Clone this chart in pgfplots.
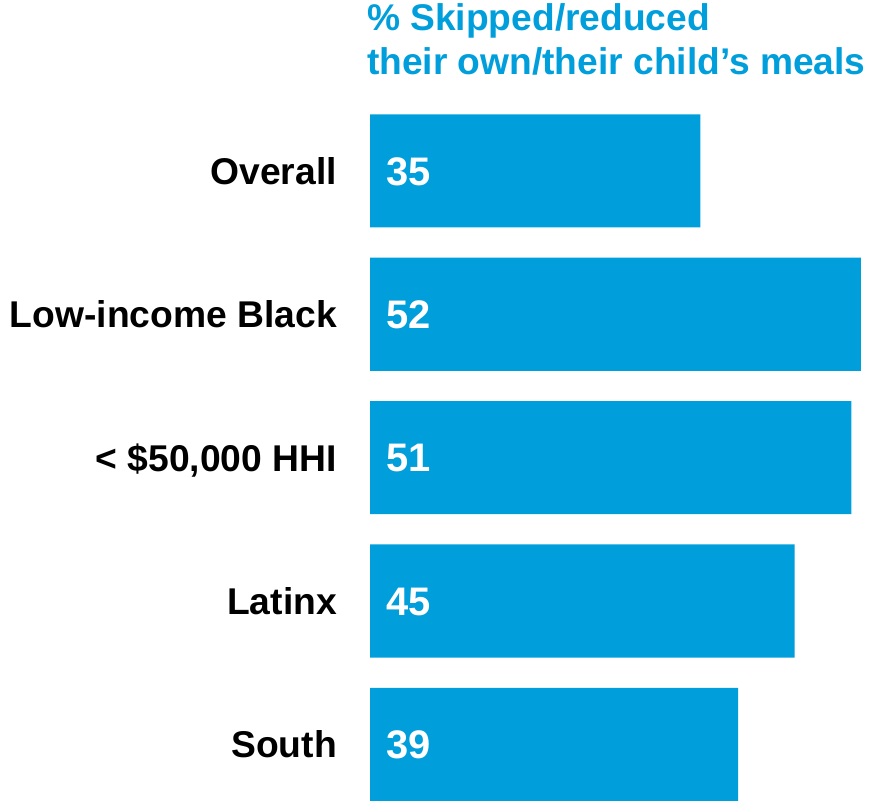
\documentclass[border=0pt]{standalone}
\usepackage{pgfplots}
\pgfplotsset{compat=1.18}
\usepackage{fontspec}
\setmainfont{Liberation Sans}
\definecolor{barblue}{RGB}{0,158,219}
\begin{document}
\begin{tikzpicture}
\begin{axis}[
  scale only axis, width=871bp, height=803bp,
  xmin=-39.19, xmax=53.07, ymin=-1.192, ymax=4.408, y dir=reverse,
  axis line style={draw=none}, major tick length=0pt, xtick=\empty,
  ytick={0,1,2,3,4},
  yticklabels={Overall, Low-income Black, {< \$50,000 HHI}, Latinx, South},
  yticklabel style={anchor=east, xshift=337bp, font=\fontsize{37.4}{44}\selectfont\bfseries,
    text height=26.8bp, text depth=0pt, inner sep=0pt},
  clip=false,
]
\addplot[xbar, fill=barblue, draw=none, bar width=0.789]
  coordinates {(35,0) (52,1) (51,2) (45,3) (39,4)};
\addplot[draw=none, nodes near coords, point meta=explicit symbolic,
  nodes near coords style={anchor=west, xshift=16bp, text=white,
    font=\fontsize{40}{48}\selectfont\bfseries, text height=28.6bp, text depth=0pt, inner sep=0pt}]
  coordinates {(0,0) [35] (0,1) [52] (0,2) [51] (0,3) [45] (0,4) [39]};
\node[anchor=base west, inner sep=0pt, text=barblue, font=\fontsize{37.3}{44}\selectfont\bfseries]
  at (axis cs:-0.32,-0.976) {\% Skipped/reduced};
\node[anchor=base west, inner sep=0pt, text=barblue, font=\fontsize{37.3}{44}\selectfont\bfseries]
  at (axis cs:-0.32,-0.669) {their own/their child’s meals};
\end{axis}
\end{tikzpicture}
\end{document}
